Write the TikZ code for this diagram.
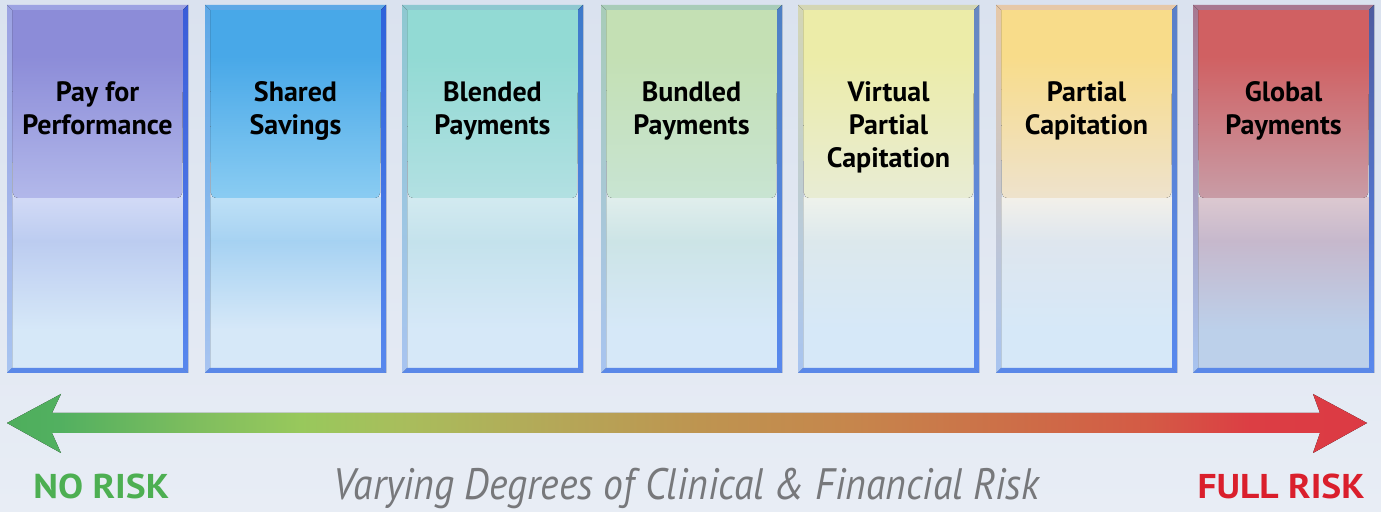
\documentclass[tikz,border=0pt]{standalone}
\usepackage{fontspec}
\setmainfont{PT Sans}
\newfontfamily\riskfont[FakeStretch=1.09]{PT Sans}
\newfontfamily\scalefont[FakeStretch=0.9]{PT Sans}
\usetikzlibrary{calc}

% column palette: a band top, b band bottom, c glass top, d glass mid, e glass bottom, f light edge, g dark edge
\definecolor{c1a}{HTML}{8C8CD8}\definecolor{c1b}{HTML}{B2B8EA}\definecolor{c1c}{HTML}{D2DAF6}\definecolor{c1d}{HTML}{BCCCF0}\definecolor{c1e}{HTML}{D6E8F8}\definecolor{c1f}{HTML}{9CA2E2}\definecolor{c1g}{HTML}{3A5CD8}
\definecolor{c2a}{HTML}{48A8E8}\definecolor{c2b}{HTML}{8ACCF2}\definecolor{c2c}{HTML}{BEE0F6}\definecolor{c2d}{HTML}{A6D2F2}\definecolor{c2e}{HTML}{D6E8F8}\definecolor{c2f}{HTML}{5EA8E6}\definecolor{c2g}{HTML}{2E62DA}
\definecolor{c3a}{HTML}{92DAD4}\definecolor{c3b}{HTML}{B2E0E2}\definecolor{c3c}{HTML}{D2EAF0}\definecolor{c3d}{HTML}{C4E2EC}\definecolor{c3e}{HTML}{D6E8F8}\definecolor{c3f}{HTML}{8EC8D0}\definecolor{c3g}{HTML}{3E7ACA}
\definecolor{c4a}{HTML}{C4E0B4}\definecolor{c4b}{HTML}{C8E4D2}\definecolor{c4c}{HTML}{E0EEEC}\definecolor{c4d}{HTML}{CCE4E6}\definecolor{c4e}{HTML}{D6E8F8}\definecolor{c4f}{HTML}{A8CCB8}\definecolor{c4g}{HTML}{4E80C4}
\definecolor{c5a}{HTML}{ECECA8}\definecolor{c5b}{HTML}{E8ECD4}\definecolor{c5c}{HTML}{EEF2EC}\definecolor{c5d}{HTML}{DCE8EC}\definecolor{c5e}{HTML}{D6E8F8}\definecolor{c5f}{HTML}{D4D6B4}\definecolor{c5g}{HTML}{6888C0}
\definecolor{c6a}{HTML}{F8DC8A}\definecolor{c6b}{HTML}{EEE2CC}\definecolor{c6c}{HTML}{F2F0EA}\definecolor{c6d}{HTML}{DEE6EE}\definecolor{c6e}{HTML}{D6E8F8}\definecolor{c6f}{HTML}{E6C8A8}\definecolor{c6g}{HTML}{5A80C8}
\definecolor{c7a}{HTML}{D06062}\definecolor{c7b}{HTML}{C89CA6}\definecolor{c7c}{HTML}{DCC8D0}\definecolor{c7d}{HTML}{C6B8CC}\definecolor{c7e}{HTML}{BCD0EA}\definecolor{c7f}{HTML}{A87890}\definecolor{c7g}{HTML}{4E5CA0}

\definecolor{edgeLow}{HTML}{A8C4F0}
\definecolor{edgeDarkLow}{HTML}{5888EE}
\definecolor{edgeBottom}{HTML}{5A88E8}
\definecolor{bgTop}{HTML}{DAE2EF}
\definecolor{bgBottom}{HTML}{E8EDF5}
\definecolor{noGreen}{HTML}{4DAF52}
\definecolor{fullRed}{HTML}{DA1F2C}
\definecolor{captionGrey}{HTML}{77787B}

% risk bar colours, left to right
\definecolor{r0}{HTML}{4EAE5C}\definecolor{r1}{HTML}{52B060}\definecolor{r2}{HTML}{80BE5E}
\definecolor{r3}{HTML}{98C85C}\definecolor{r4}{HTML}{A8BE5C}\definecolor{r5}{HTML}{B4A858}
\definecolor{r6}{HTML}{BE9450}\definecolor{r7}{HTML}{C6864C}\definecolor{r8}{HTML}{CC7048}
\definecolor{r9}{HTML}{D45A45}\definecolor{r10}{HTML}{DC3E44}\definecolor{r11}{HTML}{DC3A44}
\pgfdeclarehorizontalshading{riskbar}{100bp}{color(0bp)=(r0); color(25bp)=(r0); color(26.95bp)=(r1);
  color(32.1bp)=(r2); color(35.8bp)=(r3); color(39.4bp)=(r4); color(45bp)=(r5); color(50.5bp)=(r6);
  color(56bp)=(r7); color(61.5bp)=(r8); color(67bp)=(r9); color(70.7bp)=(r10); color(75bp)=(r11); color(100bp)=(r11)}

\tikzset{
  colbox/.style={minimum width=90.5pt, minimum height=184pt, inner sep=0pt, draw=none},
  collabel/.style={font=\bfseries\fontsize{14}{16.5}\selectfont, align=center, text=black, inner sep=0pt},
  risklabel/.style={font=\riskfont\bfseries\fontsize{17.2}{20}\selectfont, inner sep=0pt},
  caption/.style={font=\scalefont\itshape\fontsize{22}{26}\selectfont, text=captionGrey, inner sep=0pt}
}

\begin{document}
\begin{tikzpicture}[x=0.5pt,y=-0.5pt]
% backdrop
\fill[top color=bgTop, bottom color=bgBottom] (0,0) rectangle (1381,512);
\useasboundingbox (0,0) rectangle (1381,512);

% payment model columns
\foreach \i/\x/\txt in {
  1/7/{Pay for\\Performance},
  2/205/{Shared\\Savings},
  3/402/{Blended\\Payments},
  4/601/{Bundled\\Payments},
  5/798/{Virtual\\Partial\\Capitation},
  6/996/{Partial\\Capitation},
  7/1193/{Global\\Payments}}{
  \pgfmathsetmacro\xa{\x}
  \pgfmathsetmacro\xb{\x+181}
  \pgfmathsetmacro\xc{\x+90.5}
  \node[colbox] (col\i) at (\xc,189) {};
  % lower glass
  \fill[top color=c\i c, bottom color=c\i d] (\xa+5,198) rectangle (\xb-5,242);
  \fill[top color=c\i d, bottom color=c\i e] (\xa+5,241) rectangle (\xb-5,330);
  \fill[c\i e] (\xa+5,329) rectangle (\xb-5,368);
  % coloured upper band
  \fill[top color=c\i a, bottom color=c\i b] (\xa+5,56) [rounded corners=2.5pt] -- (\xa+6,198) -- (\xb-6,198) [sharp corners] -- (\xb-5,56) -- cycle;
  \fill[c\i a] (\xa+5,10) rectangle (\xb-5,57);
  % bevelled frame
  \fill[c\i f] (\xa,5) -- (\xb,5) -- (\xb-5,10) -- (\xa+5,10) -- cycle;
  \fill[top color=c\i f, bottom color=edgeLow] (\xa,5) -- (\xa+5,10) -- (\xa+5,368) -- (\xa,373) -- cycle;
  \fill[top color=c\i g, bottom color=edgeDarkLow] (\xb,5) -- (\xb,373) -- (\xb-5,368) -- (\xb-5,10) -- cycle;
  \fill[edgeBottom] (\xa,373) -- (\xb,373) -- (\xb-5,368) -- (\xa+5,368) -- cycle;
  \node[collabel, anchor=north] (lab\i) at (\xc,81) {\txt};
}

% risk scale arrow
\coordinate (noRiskTip) at (7,423);
\coordinate (fullRiskTip) at (1367,423);
\fill[shading=riskbar] (noRiskTip) -- (61,394) -- (52,413) -- (1320,413) -- (1313,394) -- (fullRiskTip)
  -- (1313,453) -- (1320,433) -- (52,433) -- (61,453) -- cycle;

% scale captions
\node[risklabel, text=noGreen, anchor=base west] (noRisk) at (33,499) {NO RISK};
\node[risklabel, text=fullRed, anchor=base east] (fullRisk) at (1365,499) {FULL RISK};
\node[caption, anchor=base] (scale) at (686.5,500) {Varying Degrees of Clinical \& Financial Risk};
\end{tikzpicture}
\end{document}
